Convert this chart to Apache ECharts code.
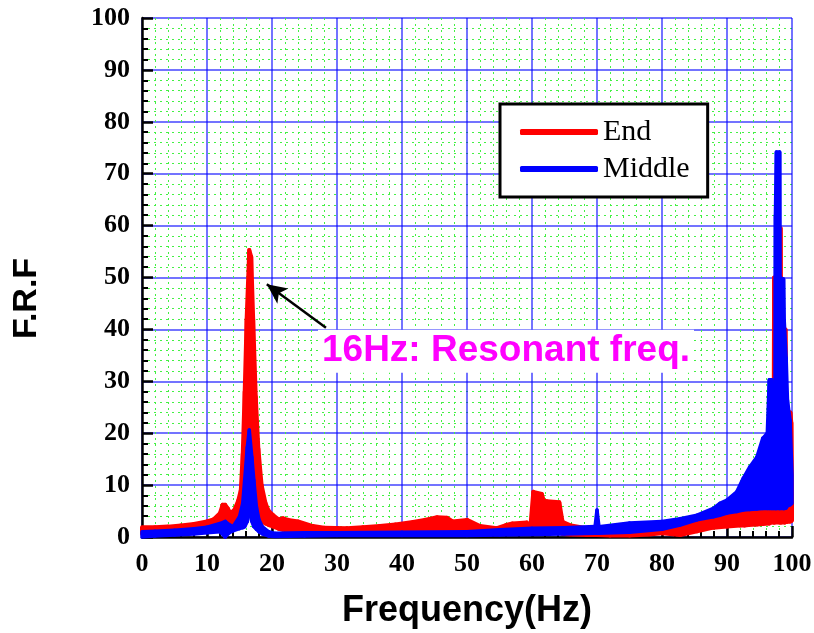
<!DOCTYPE html>
<html>
<head>
<meta charset="utf-8">
<script src="https://cdn.jsdelivr.net/npm/echarts@6/dist/echarts.min.js"></script>
<style>
  html, body { margin: 0; padding: 0; background: #fff; }
  #chart { width: 814px; height: 633px; }
</style>
</head>
<body>
<div id="chart"></div>
<script>
// End (red) band: frequency, lower edge, upper edge
const endFreq = [0, 2, 4, 6, 8, 10, 11, 12, 12.4, 12.8, 13.2, 13.6, 14.2, 14.8, 15.2, 15.5, 15.8, 16.1, 16.5, 16.8, 17.1, 17.5, 17.9, 18.4, 19.0, 19.5, 20.2, 21.0, 21.7, 22.5, 24, 26.3, 28, 31.5, 34, 36.6, 39, 41.7, 43.5, 45.4, 46.9, 47.8, 50, 52, 54.6, 56, 57, 59.2, 59.7, 60.2, 61.5, 61.8, 62.3, 64.2, 64.7, 66, 68.4, 70, 72, 75, 78, 80, 82.8, 85.4, 87.9, 90, 92, 92.7, 93.3, 94.6, 95.5, 96.5, 96.8, 97.15, 97.25, 97.35, 98.1, 98.25, 98.35, 98.9, 99.0, 99.15, 99.6, 99.75, 99.9, 100];
const endLow = [0.6, 0.8, 0.9, 1.0, 1.1, 1.3, 1.4, 1.3, 1.0, 0.1, 0.8, 1.8, 2.2, 2.6, 3.0, 3.5, 4, 5, 6, 6, 5, 4, 3.5, 3, 2.6, 2.3, 2.0, 1.6, 1.4, 1.3, 1.1, 0.8, 0.8, 0.9, 0.9, 1.0, 1.0, 1.1, 1.2, 1.2, 1.2, 1.0, 1.0, 0.8, 0.6, 0.6, 0.7, 0.8, 0.6, 1.0, 1.2, 1.0, 0.8, 0.8, 0.6, 0.5, 0.4, 0.4, 0.3, 0.3, 0.5, 0.7, 0.4, 1.1, 1.8, 2.0, 2.2, 2.2, 2.3, 2.4, 2.5, 2.6, 2.8, 2.8, 2.8, 2.8, 2.8, 2.8, 2.8, 2.8, 2.9, 2.9, 3.0, 3.0, 3.1, 3.2];
const endHigh = [1.9, 1.9, 2.0, 2.2, 2.5, 3.0, 3.4, 4.6, 6.2, 6.2, 5.5, 4.6, 5.2, 7.0, 9, 16, 28, 42, 55.3, 54, 42, 27, 17, 10, 6.5, 5, 4.2, 3.4, 3.6, 3.3, 3.0, 2.1, 1.8, 1.7, 1.9, 2.1, 2.4, 2.9, 3.3, 3.8, 3.7, 3.0, 3.3, 2.1, 1.7, 2.3, 2.6, 2.8, 1.2, 8.7, 8.3, 7.0, 6.9, 6.7, 2.9, 2.2, 1.7, 1.5, 1.2, 1.1, 1.6, 2.0, 2.5, 3.3, 3.9, 4.5, 5.2, 8.5, 6.0, 7.0, 7.5, 8.5, 9.4, 10, 50, 12, 13, 59.5, 14, 12, 40, 12, 14, 24, 22, 8];

// Middle (blue) band: frequency, lower edge, upper edge
const midFreq = [0, 2, 5, 8, 10, 12, 12.8, 13.4, 14, 15, 15.5, 15.8, 16.2, 16.5, 16.9, 17.2, 17.6, 18, 18.5, 19.5, 20.5, 25, 30, 40, 50, 55, 60, 65, 69.7, 70.0, 70.3, 75, 80, 82.8, 85.4, 87.9, 88.9, 90, 91.5, 92.5, 93.5, 94.6, 95.5, 96.2, 96.5, 96.9, 97.1, 97.4, 97.45, 97.6, 98.1, 98.15, 98.7, 98.8, 99.1, 99.3, 99.7, 100];
const midLow = [0.0, 0.2, 0.4, 0.6, 0.8, 1.0, 0.0, 0.8, 1.2, 1.6, 1.8, 2.0, 3.0, 5.0, 3.0, 2.0, 1.5, 1.0, 0.6, 0.2, 0.1, 0.2, 0.3, 0.3, 0.3, 0.4, 0.5, 0.6, 0.7, 0.7, 0.7, 0.9, 1.5, 2.3, 3.3, 3.9, 4.2, 4.6, 4.9, 5.2, 5.3, 5.4, 5.5, 5.5, 5.5, 5.5, 5.5, 5.5, 5.5, 5.5, 5.5, 5.5, 5.5, 5.5, 5.6, 6.0, 6.2, 6.5];
const midHigh = [1.0, 1.1, 1.3, 1.6, 1.9, 2.6, 3.0, 2.4, 2.0, 3.9, 6.5, 11, 17.3, 20.6, 15.4, 11, 5.8, 3.3, 2.0, 1.0, 0.7, 0.8, 0.8, 0.9, 1.0, 1.4, 1.7, 1.8, 2.0, 5.2, 2.0, 2.7, 3.0, 3.5, 4.2, 5.5, 6.5, 7.1, 8.7, 11.3, 13.5, 15.4, 19, 20, 30.3, 30.3, 28, 28, 62, 74.2, 74.2, 50, 49.7, 41.8, 34.5, 26.4, 22.5, 12];

const axisMin = 0;
const axisMax = 100;
const axisStep = 10;

const noteText = '16Hz: Resonant freq.';
const noteAt = [56, 35.8];
const arrowFrom = [28.3, 40.3];
const arrowTo = [19.2, 48.7];

// one quad per pair of neighbouring samples: [f0, lo0, hi0, f1, lo1, hi1]
function segments(freq, lo, hi) {
  const out = [];
  for (let i = 0; i < freq.length - 1; i++) {
    out.push([freq[i], lo[i], hi[i], freq[i + 1], lo[i + 1], hi[i + 1]]);
  }
  return out;
}

function bandSeries(name, color, width, freq, lo, hi) {
  return {
    name: name,
    type: 'custom',
    silent: true,
    itemStyle: { color: color },
    encode: { x: [0, 3], y: [1, 2, 4, 5] },
    data: segments(freq, lo, hi),
    renderItem: function (params, api) {
      const a = api.coord([api.value(0), api.value(1)]);
      const b = api.coord([api.value(0), api.value(2)]);
      const c = api.coord([api.value(3), api.value(5)]);
      const d = api.coord([api.value(3), api.value(4)]);
      return {
        type: 'polygon',
        shape: { points: [a, b, c, d] },
        style: { fill: color, stroke: color, lineWidth: width, lineJoin: 'round' }
      };
    }
  };
}

const chart = echarts.init(document.getElementById('chart'));

const axisCommon = {
  type: 'value',
  min: axisMin,
  max: axisMax,
  interval: axisStep,
  axisLine: { show: true, lineStyle: { color: '#000', width: 2.5 } },
  axisTick: { show: true, inside: true, length: 11, lineStyle: { color: '#000', width: 2.5 } },
  minorTick: { show: true, splitNumber: 5, length: 6, lineStyle: { color: '#000', width: 2 } },
  splitLine: { show: true, lineStyle: { color: 'rgba(0,0,255,0.55)', width: 2 } },
  minorSplitLine: { show: true, lineStyle: { color: '#44f044', width: 1, type: [2, 4] } },
  axisLabel: {
    color: '#000',
    fontFamily: 'Liberation Serif',
    fontWeight: 'bold',
    fontSize: 26
  },
  nameLocation: 'middle',
  nameTextStyle: {
    color: '#000',
    fontFamily: 'Liberation Sans',
    fontWeight: 'bold',
    fontSize: 36
  }
};

chart.setOption({
  animation: false,
  backgroundColor: '#fff',
  grid: { left: 142, right: 22, top: 18, bottom: 96, outerBoundsMode: 'none' },
  xAxis: Object.assign({}, axisCommon, {
    name: 'Frequency(Hz)',
    nameGap: 56,
    axisLabel: Object.assign({}, axisCommon.axisLabel, { margin: 14 })
  }),
  yAxis: Object.assign({}, axisCommon, {
    name: 'F.R.F',
    nameGap: 98,
    nameRotate: 90,
    nameTextStyle: Object.assign({}, axisCommon.nameTextStyle, { fontSize: 34, padding: [0, 42, 0, 0] }),
    axisLabel: Object.assign({}, axisCommon.axisLabel, { margin: 12 })
  }),
  legend: {
    orient: 'vertical',
    left: 500,
    top: 104,
    padding: [13, 18, 13, 20],
    itemGap: 7,
    itemWidth: 78,
    itemHeight: 6,
    itemTextGap: 12,
    backgroundColor: '#fff',
    borderColor: '#000',
    borderWidth: 3,
    borderRadius: 0,
    selectedMode: false,
    textStyle: { color: '#000', fontFamily: 'Liberation Serif', fontSize: 30 },
    data: [
      { name: 'End', icon: 'roundRect', itemStyle: { color: '#ff0000' } },
      { name: 'Middle', icon: 'roundRect', itemStyle: { color: '#0000ff' } }
    ]
  },
  series: [
    bandSeries('End', '#ff0000', 4, endFreq, endLow, endHigh),
    bandSeries('Middle', '#0000ff', 3.5, midFreq, midLow, midHigh),
    {
      type: 'line',
      data: [],
      silent: true,
      z: 10,
      markLine: {
        silent: true,
        symbol: ['none', 'arrow'],
        symbolSize: [14, 20],
        label: { show: false },
        lineStyle: { color: '#000', width: 2.5, type: 'solid' },
        emphasis: { disabled: true },
        data: [[{ coord: arrowFrom }, { coord: arrowTo }]]
      },
      markPoint: {
        silent: true,
        symbol: 'rect',
        symbolSize: 1,
        itemStyle: { color: 'rgba(0,0,0,0)' },
        label: {
          show: true,
          position: 'inside',
          formatter: noteText,
          color: '#ff00ff',
          fontFamily: 'Liberation Sans',
          fontWeight: 'bold',
          fontSize: 37,
          backgroundColor: '#fff',
          padding: [4, 4, 2, 4]
        },
        data: [{ coord: noteAt }]
      }
    }
  ]
});
</script>
</body>
</html>
